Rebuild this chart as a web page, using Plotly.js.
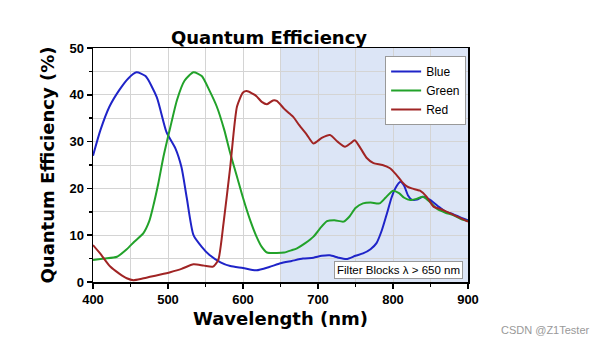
<!DOCTYPE html>
<html><head><meta charset="utf-8">
<script src="https://cdn.plot.ly/plotly-3.0.1.min.js"></script>
<style>html,body{margin:0;padding:0;background:#fff;}#chart{width:596px;height:344px;}</style>
</head><body><div id="chart"></div>
<script>
const blueX = [400,410,422,435,447,458,470,485,498,510,518,525,534,545,555,570,583,600,618,635,650,665,680,694,705,716,727,738,750,760,770,778,785,792,798,803,810,815,820,825,832,840,850,860,870,880,890,900];
const blueY = [27,32.5,37.5,41,43.5,44.8,44,39.5,32,28.5,24.5,18,10,7.5,5.8,4.2,3.4,3,2.5,3.2,4,4.5,5,5.2,5.6,5.7,5.2,4.9,5.6,6.1,7,8.3,11,14.7,18,20,21.4,20.5,18.5,17.6,17.6,18.2,17.5,16.2,15,14.5,13.8,13.2];
const greenX = [400,415,432,445,455,467,475,480,487,494,503,512,522,534,545,555,565,575,583,592,600,610,618,625,632,645,655,665,672,683,694,703,712,722,734,742,750,760,770,782,790,800,808,815,823,832,840,850,858,870,880,890,900];
const greenY = [4.7,5,5.4,7,8.6,10.4,13,16,21,26.8,33,38.9,43,44.8,44,41,37.5,32.5,27.5,22.5,18,13,9.7,7.5,6.3,6.2,6.3,6.8,7.2,8.3,9.7,11.5,13,13.2,12.9,14,15.8,16.8,17,16.8,18,19.5,19,18,17.5,17.8,18.2,17,15.7,14.8,14.3,13.5,13];
const redX = [400,410,423,435,445,454,465,476,490,503,518,534,548,560,567,574,583,592,600,605,612,618,625,632,640,645,655,662,667,675,685,694,705,716,726,736,743,749,757,765,774,786,796,804,812,818,825,836,845,854,865,876,888,900];
const redY = [7.9,6,3.3,1.8,0.8,0.4,0.7,1.1,1.6,2.1,2.8,3.8,3.5,3.3,4.7,12.5,24.6,37.5,40.5,40.8,40.3,39.7,38.5,38,38.8,38.7,37,36,35.3,33.5,31.5,29.6,30.8,31.4,30,28.9,29.6,30.3,28.5,26.5,25.4,25,24.3,23,21.4,20.5,20,19.5,18.2,16.1,15.5,14.7,13.8,12.9];
const seriesNames = ['Blue','Green','Red'];
const xTicks = [400,500,600,700,800,900];
const yTicks = [0,10,20,30,40,50];
const filterStart = 650, filterEnd = 900;

const bold = {family:'Liberation Sans, Arial, sans-serif', weight:'bold', color:'#000'};
const boldWide = {family:'DejaVu Sans, sans-serif', weight:'bold', color:'#000'};
const mk = (x,y,name,color)=>({x:x,y:y,name:name,type:'scatter',mode:'lines',
  line:{color:color,width:2,shape:'spline',smoothing:0.6}});
const data = [
  mk(blueX,blueY,seriesNames[0],'#1f24c8'),
  mk(greenX,greenY,seriesNames[1],'#22a22a'),
  mk(redX,redY,seriesNames[2],'#a02424')
];
const axBase = {showline:true,linecolor:'#000',linewidth:1.5,mirror:true,ticks:'outside',ticklen:5,tickwidth:1.5,tickcolor:'#000',
  showgrid:true,gridcolor:'#d4d4d4',gridwidth:1,zeroline:false};
const layout = {
  width:596,height:344,margin:{l:93,r:128,t:48,b:62},
  paper_bgcolor:'#fff',plot_bgcolor:'#fff',showlegend:true,
  title:{text:'Quantum Efficiency',font:Object.assign({},boldWide,{size:18}),xref:'container',x:269/596,xanchor:'center',yref:'container',y:1-38/344,yanchor:'middle'},
  xaxis:Object.assign({},axBase,{range:[400,900],tickvals:xTicks,ticktext:xTicks.map(String),
    tickfont:Object.assign({},bold,{size:13}),
    minor:{dtick:50,tick0:400,ticks:'outside',ticklen:3,tickcolor:'#000',showgrid:true,gridcolor:'#d4d4d4'},
    title:{text:'Wavelength (nm)',font:Object.assign({},boldWide,{size:18}),standoff:6}}),
  yaxis:Object.assign({},axBase,{range:[0,50],tickvals:yTicks,ticktext:yTicks.map(String),
    tickfont:Object.assign({},bold,{size:13}),
    minor:{dtick:5,tick0:0,ticks:'outside',ticklen:3,tickcolor:'#000',showgrid:true,gridcolor:'#d4d4d4'},
    title:{text:'Quantum Efficiency (%)',font:Object.assign({},boldWide,{size:18}),standoff:10}}),
  shapes:[{type:'rect',xref:'x',yref:'paper',x0:filterStart,x1:filterEnd,y0:0,y1:1,fillcolor:'#dce5f6',line:{width:0},layer:'below'}],
  legend:{x:0.995,y:0.966,xanchor:'right',yanchor:'top',bgcolor:'#fff',bordercolor:'#999',borderwidth:1,
    font:{family:'Liberation Sans, Arial, sans-serif',size:12,color:'#000'},tracegroupgap:0,itemwidth:30},
  annotations:[
    {text:'Filter Blocks λ > 650 nm',xref:'paper',yref:'paper',x:0.987,y:0.013,xanchor:'right',yanchor:'bottom',showarrow:false,
     font:{family:'Liberation Sans, Arial, sans-serif',size:11.5,color:'#000'},bgcolor:'#fff',bordercolor:'#999',borderwidth:1,borderpad:2},
    {text:'CSDN @Z1Tester',xref:'paper',yref:'paper',x:(592-93)/375,y:-(330-282)/234,xanchor:'right',yanchor:'middle',showarrow:false,
     font:{family:'Liberation Sans, Arial, sans-serif',size:11,color:'#999'}}
  ]
};
Plotly.newPlot('chart',data,layout,{staticPlot:true});
</script></body></html>
